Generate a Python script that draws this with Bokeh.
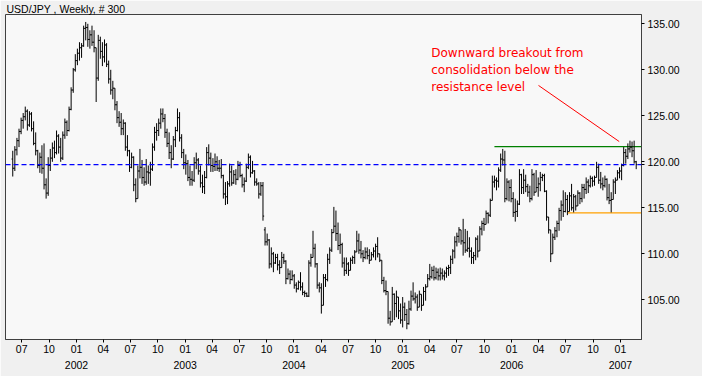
import pandas as pd
from bokeh.plotting import figure
from bokeh.models import (LinearAxis, FixedTicker, Range1d, Label, Span,
                          ColumnDataSource, PrintfTickFormatter)
from bokeh.embed import file_html
from bokeh.resources import INLINE

# ---------------- data ----------------
title_text = "USD/JPY , Weekly, # 300"
first_week = "2001-06-01"
n_weeks = 300

opens = [120.3,119.3,121.3,122.3,123.3,124.5,124.9,125.5,124.0,125.2,
123.6,122.0,121.2,119.6,120.5,119.3,117.5,116.6,119.6,120.4,
121.5,121.0,122.8,121.6,120.4,122.9,124.3,123.4,125.7,127.8,
130.0,131.0,131.8,132.4,132.6,134.5,134.6,133.3,133.8,133.0,
132.4,129.1,133.2,132.0,131.4,132.7,130.6,129.0,127.8,128.0,
126.2,124.8,124.3,123.6,124.2,121.6,121.2,119.4,120.5,117.5,
116.0,119.0,119.4,118.3,117.8,118.9,118.8,119.2,121.6,123.2,
123.4,124.2,125.2,124.7,123.2,122.0,121.0,120.3,122.4,123.4,
124.8,122.6,121.0,119.9,119.8,118.3,118.1,118.0,119.9,120.2,
119.0,117.7,117.3,118.3,121.0,120.4,119.6,119.5,120.0,119.3,
119.3,118.5,116.5,116.2,117.6,118.9,117.7,118.6,118.1,119.6,
118.5,117.5,117.9,119.4,120.5,118.8,119.0,117.8,117.6,116.5,
117.4,112.6,111.3,111.5,108.9,110.0,109.0,109.6,108.8,108.5,
109.6,109.2,107.3,107.8,107.2,107.6,106.6,106.2,106.9,106.4,
105.8,105.7,105.4,109.0,109.6,110.6,108.9,106.6,106.3,104.4,
107.4,107.2,109.4,110.4,112.3,113.0,112.2,110.9,111.0,109.0,
108.2,108.9,108.2,109.3,109.6,110.2,111.4,110.4,110.0,109.6,
110.2,109.8,109.3,109.9,110.3,110.8,110.0,109.3,107.1,106.0,
105.9,103.0,102.6,105.6,104.6,105.3,103.8,102.8,104.2,103.4,
102.4,104.0,105.4,105.1,105.3,104.2,105.6,104.4,105.9,106.4,
107.3,107.5,108.2,107.4,108.0,107.6,107.9,107.6,107.9,108.4,
108.5,109.4,110.3,111.3,111.9,112.6,111.4,111.2,110.4,110.6,
110.3,109.6,109.8,111.6,110.3,112.7,113.3,113.2,114.4,114.2,
115.8,117.8,118.0,117.9,119.1,120.3,120.2,116.0,117.8,117.2,
116.0,114.5,114.6,115.4,118.6,117.2,118.0,117.3,116.7,116.0,
118.6,116.7,117.2,117.6,118.3,118.5,116.8,114.0,112.6,110.0,
111.8,112.5,113.3,114.7,115.3,114.6,115.9,114.6,116.3,115.0,
116.2,115.2,116.6,116.0,117.2,117.0,117.8,117.4,118.2,117.9,
118.3,119.4,118.0,117.6,117.4,118.1,116.1,115.8,115.9,117.8,
118.0,118.8,119.0,119.6,121.0,120.6,121.4,121.6,121.2,120.0]

highs = [121.2,121.7,122.6,123.6,124.8,125.3,126.0,125.7,125.5,125.4,
124.4,123.2,121.3,121.0,121.8,122.0,118.2,120.5,121.4,122.1,
122.3,123.4,123.0,122.6,123.3,124.7,124.5,126.0,128.1,130.2,
131.7,132.3,133.0,132.9,134.8,135.2,135.0,134.3,134.8,134.3,
132.4,133.8,133.6,133.0,133.3,132.9,131.0,130.0,128.8,128.0,
126.6,125.5,125.3,124.6,124.3,122.9,121.3,121.0,120.6,118.2,
119.6,121.4,120.2,119.4,120.3,119.6,120.0,122.0,123.8,124.2,
124.7,125.8,125.8,125.2,123.6,123.2,121.8,122.8,123.8,125.8,
125.4,123.0,121.4,120.8,120.2,119.6,119.0,120.5,121.0,120.4,
119.6,118.6,119.0,121.6,121.9,121.0,120.4,120.9,120.6,120.2,
120.3,118.6,117.8,117.9,119.8,119.6,119.1,119.2,120.1,120.0,
118.7,118.3,119.8,120.9,120.7,120.1,119.1,118.2,117.8,117.8,
117.8,112.9,112.2,111.6,110.7,110.2,110.0,110.0,109.3,110.2,
110.0,109.3,108.4,108.2,108.2,107.8,106.9,107.1,108.0,106.9,
106.0,105.8,109.3,110.0,112.5,111.1,109.0,106.9,106.8,107.8,
107.8,110.0,110.7,112.7,115.1,114.7,113.4,112.2,111.2,109.6,
109.6,109.1,109.6,109.8,110.4,112.5,112.2,111.4,110.4,110.7,
110.7,110.5,110.2,110.7,111.1,111.8,110.0,109.3,107.5,107.1,
105.9,103.8,106.4,105.7,106.0,105.3,104.6,105.3,104.7,104.0,
104.9,106.0,106.9,105.8,105.6,106.0,105.6,106.4,106.7,107.8,
108.9,108.6,108.7,108.5,108.4,108.5,108.4,108.2,108.6,108.8,
109.8,110.5,111.9,112.3,112.9,112.6,113.8,112.7,112.5,111.8,
110.7,110.2,111.8,112.0,113.0,113.6,113.9,114.7,114.5,116.0,
118.5,118.5,118.3,119.4,120.9,121.4,121.2,118.2,118.0,118.1,
116.7,116.0,115.8,119.2,118.7,119.2,118.6,117.6,117.4,119.2,
118.8,119.1,118.3,118.9,118.7,118.7,116.9,114.0,112.6,112.2,
112.9,113.6,115.0,115.8,116.9,116.7,116.4,116.7,117.6,116.5,
116.4,116.9,116.7,117.6,117.6,118.3,118.1,118.5,118.4,118.5,
120.0,119.8,118.9,118.3,118.5,118.2,117.6,116.7,118.1,118.3,
119.1,119.4,119.8,121.6,121.4,122.0,122.3,122.2,122.3,120.1]

lows = [118.4,119.0,120.7,121.6,123.0,123.6,124.5,123.4,123.8,123.3,
121.8,120.7,119.3,118.8,118.7,117.0,116.0,116.3,119.0,120.0,
120.4,120.8,120.9,120.0,120.2,122.5,122.8,123.3,125.6,127.5,
129.8,130.5,131.0,131.3,132.5,133.2,132.5,132.3,132.6,131.9,
126.5,128.8,131.2,130.4,130.8,130.3,128.5,127.3,126.8,125.6,
124.2,123.8,122.9,122.9,121.2,120.6,118.9,119.3,116.8,115.6,
116.0,118.2,117.6,117.4,117.5,117.6,117.4,119.0,121.2,122.3,
122.8,123.6,124.3,122.6,121.6,120.3,119.3,120.2,121.6,123.3,
122.2,120.4,119.2,118.6,117.9,117.4,117.4,117.8,119.2,118.6,
117.2,116.6,116.5,118.2,119.6,118.9,118.9,119.0,119.0,118.9,
118.2,116.0,115.3,115.4,117.3,117.4,117.6,117.5,118.0,118.3,
117.2,116.7,117.8,119.2,118.3,118.7,117.4,117.4,116.0,116.3,
113.6,110.9,110.9,108.4,108.5,108.0,108.9,108.2,107.8,108.5,
108.9,106.7,107.2,106.7,107.1,106.2,105.8,106.1,106.0,105.5,
105.3,105.3,105.3,108.6,109.6,108.5,106.2,105.8,103.5,104.4,
106.4,107.0,108.9,110.2,112.3,111.4,110.4,110.0,108.5,107.6,
107.8,107.6,108.2,108.9,108.9,110.2,110.0,109.5,109.1,109.4,
109.4,108.9,109.3,109.6,109.3,109.6,109.1,106.7,105.8,105.5,
102.4,102.2,102.6,102.8,103.1,102.9,102.4,102.0,102.7,101.8,
102.3,103.8,104.9,104.6,103.8,104.2,103.8,104.4,104.9,106.4,
107.1,107.3,107.1,107.2,107.1,107.1,107.2,107.1,107.4,107.6,
107.8,108.9,109.5,110.8,111.2,111.0,109.8,110.1,110.2,109.6,
108.9,108.9,109.3,109.6,110.3,112.0,112.5,113.2,113.3,114.0,
115.8,117.2,116.9,117.2,118.9,119.6,115.6,115.8,115.7,115.6,
114.0,113.5,114.0,115.3,116.5,116.5,116.7,116.2,115.6,115.8,
116.3,116.7,116.2,116.8,117.9,116.7,113.6,112.2,109.1,110.0,
111.5,111.8,112.5,113.6,114.0,114.5,114.2,114.6,114.7,114.5,
114.7,115.2,115.4,115.6,116.0,116.5,116.6,117.2,117.3,117.4,
118.3,117.6,117.1,116.9,117.2,115.8,115.4,114.5,115.9,116.5,
118.0,118.2,118.0,119.5,119.8,120.3,121.0,120.5,119.8,119.2]

closes = [119.3,121.3,122.3,123.3,124.5,124.9,125.5,124.0,125.2,123.6,
122.0,121.2,119.6,120.5,119.3,117.5,116.6,119.6,120.4,121.5,
121.0,122.8,121.6,120.4,122.9,124.3,123.4,125.7,127.8,130.0,
131.0,131.8,132.4,132.6,134.5,134.6,133.3,133.8,133.0,132.4,
129.1,133.2,132.0,131.4,132.7,130.6,129.0,127.8,128.0,126.2,
124.8,124.3,123.6,124.2,121.6,121.2,119.4,120.5,117.5,116.0,
119.0,119.4,118.3,117.8,118.9,118.8,119.2,121.6,123.2,123.4,
124.2,125.2,124.7,123.2,122.0,121.0,120.3,122.4,123.4,124.8,
122.6,121.0,119.9,119.8,118.3,118.1,118.0,119.9,120.2,119.0,
117.7,117.3,118.3,121.0,120.4,119.6,119.5,120.0,119.3,119.3,
118.5,116.5,116.2,117.6,118.9,117.7,118.6,118.1,119.6,118.5,
117.5,117.9,119.4,120.5,118.8,119.0,117.8,117.6,116.5,117.4,
114.1,111.3,111.5,108.9,110.0,109.0,109.6,108.8,108.5,109.6,
109.2,107.3,107.8,107.2,107.6,106.6,106.2,106.9,106.4,105.8,
105.7,105.4,109.0,109.6,110.6,108.9,106.6,106.3,104.4,107.4,
107.2,109.4,110.4,112.3,113.0,112.2,110.9,111.0,109.0,108.2,
108.9,108.2,109.3,109.6,110.2,111.4,110.4,110.0,109.6,110.2,
109.8,109.3,109.9,110.3,110.8,110.0,109.3,107.1,106.0,105.9,
103.0,102.6,105.6,104.6,105.3,103.8,102.8,104.2,103.4,102.4,
104.0,105.4,105.1,105.3,104.2,105.6,104.4,105.9,106.4,107.3,
107.5,108.2,107.4,108.0,107.6,107.9,107.6,107.9,108.4,108.5,
109.4,110.3,111.3,111.9,112.6,111.4,111.2,110.4,110.6,110.3,
109.6,109.8,111.6,110.3,112.7,113.3,113.2,114.4,114.2,115.8,
117.8,118.0,117.9,119.1,120.3,120.2,116.0,117.8,117.2,116.0,
114.5,114.6,115.4,118.6,117.2,118.0,117.3,116.7,116.0,118.6,
116.7,117.2,117.6,118.3,118.5,116.8,114.0,112.6,110.0,111.8,
112.5,113.3,114.7,115.3,114.6,115.9,114.6,116.3,115.0,116.2,
115.2,116.6,116.0,117.2,117.0,117.8,117.4,118.2,117.9,118.3,
119.4,118.0,117.6,117.4,118.1,116.1,115.8,115.9,117.8,118.0,
118.8,119.0,119.6,121.0,120.6,121.4,121.6,121.2,120.0,119.69]

last_close = 119.69
last_close_text = "119.69"
y_ticks = [105, 110, 115, 120, 125, 130, 135]
resistance_level = 121.65
resistance_from = "2005-11-04"
support_level = 114.45
support_from = "2006-07-06"
note_text = "Downward breakout from\nconsolidation below the\nresistance level"
note_at = ("2005-04-06", 132.55)
pointer_from = ("2006-04-01", 128.3)
pointer_to = ("2006-12-28", 122.2)

# ---------------- helpers ----------------
DAY = 86400000
def ms(d):
    return int(pd.Timestamp(d).value // 10**6)

dates = pd.date_range(first_week, periods=n_weeks, freq="7D")
xs = [ms(d) for d in dates]
tick_w = 4 * DAY

src = ColumnDataSource(dict(
    x=xs,
    xl=[x - tick_w for x in xs],
    xr=[x + tick_w for x in xs],
    o=opens, h=highs, l=lows, c=closes))

# axis scale: 108.8 px per year, frame from px 5 to 641
ms_per_px = 365.25 * DAY / 108.8
x0 = ms("2002-01-01") - 71 * ms_per_px
x1 = ms("2002-01-01") + 565 * ms_per_px
# 9.2 px per yen; frame runs from about y=14 (below the title) to y=339
Y0 = 100.685
Y1 = Y0 + (339 - 14) / 9.2

p = figure(width=702, height=376, x_range=Range1d(x0, x1),
           y_range=Range1d(Y0, Y1),
           x_axis_type=None, y_axis_type=None,
           output_backend="svg", toolbar_location=None,
           min_border_left=5, min_border_right=61,
           min_border_top=0, min_border_bottom=37,
           background_fill_color="#F8F8F8", border_fill_color="#F0F0F0")
p.outline_line_color = "#404040"
p.outline_line_width = 1

p.title.text = title_text
p.title.text_font = "Liberation Sans"
p.title.text_font_size = "10.5px"
p.title.text_font_style = "normal"
p.title.text_color = "black"
p.title.align = "left"
p.title.offset = 1
p.title.standoff = 0

# reference lines
p.add_layout(Span(location=last_close, dimension="width", line_color="#0000FF",
                  line_width=1.2, line_dash="5 3"))
p.segment(x0=[ms(resistance_from)], y0=[resistance_level], x1=[x1], y1=[resistance_level],
          line_color="#008000", line_width=1.2)
p.segment(x0=[ms(support_from)], y0=[support_level], x1=[x1], y1=[support_level],
          line_color="#FFA000", line_width=1.2)

# OHLC bars
p.segment(x0="x", y0="l", x1="x", y1="h", source=src, line_color="black", line_width=1)
p.segment(x0="xl", y0="o", x1="x", y1="o", source=src, line_color="black", line_width=1)
p.segment(x0="x", y0="c", x1="xr", y1="c", source=src, line_color="black", line_width=1)

# annotation
p.segment(x0=[ms(pointer_from[0])], y0=[pointer_from[1]],
          x1=[ms(pointer_to[0])], y1=[pointer_to[1]], line_color="#FF0000", line_width=1)
p.add_layout(Label(x=ms(note_at[0]), y=note_at[1], text=note_text,
                   text_font="DejaVu Sans", text_font_size="12px", text_color="#FF0000",
                   text_baseline="top", text_align="left", text_line_height=1.22))

# axes
FONT = "Liberation Sans"
yax = LinearAxis(ticker=FixedTicker(ticks=y_ticks + [last_close]),
                 formatter=PrintfTickFormatter(format="%.2f"),
                 major_label_overrides={last_close: ""})
yax.major_tick_out = 3
yax.major_tick_in = 0
yax.minor_tick_line_color = None
yax.major_label_standoff = 3
yax.axis_line_color = "#404040"
yax.major_tick_line_color = "black"
yax.major_label_text_font = FONT
yax.major_label_text_font_size = "10.5px"
yax.major_label_text_color = "black"
p.add_layout(yax, "right")

p.add_layout(Label(x=x1, y=last_close, x_offset=6, text=last_close_text,
                   text_font=FONT, text_font_size="10.5px", text_color="#0000FF",
                   text_baseline="middle", text_align="left"))

q_dates = pd.date_range("2001-07-01", "2007-01-01", freq="QS")
q_ticks = [ms(d) for d in q_dates]
q_labels = {ms(d): "%02d" % d.month for d in q_dates}
xax = LinearAxis(ticker=FixedTicker(ticks=q_ticks), major_label_overrides=q_labels)
xax.major_tick_out = 3
xax.major_tick_in = 0
xax.minor_tick_line_color = None
xax.major_label_standoff = 2
xax.axis_line_color = "#404040"
xax.major_tick_line_color = "black"
xax.major_label_text_font = FONT
xax.major_label_text_font_size = "10.5px"
xax.major_label_text_color = "black"
p.add_layout(xax, "below")

y_dates = pd.date_range("2002-01-01", "2007-01-01", freq="YS")
yr_ticks = [ms(d) for d in y_dates]
yr_labels = {ms(d): str(d.year) for d in y_dates}
yrax = LinearAxis(ticker=FixedTicker(ticks=yr_ticks), major_label_overrides=yr_labels)
yrax.axis_line_color = None
yrax.major_tick_line_color = None
yrax.minor_tick_line_color = None
yrax.major_tick_out = 0
yrax.major_tick_in = 0
yrax.major_label_standoff = 5
yrax.major_label_text_font = FONT
yrax.major_label_text_font_size = "10.5px"
yrax.major_label_text_color = "black"
p.add_layout(yrax, "below")

open("out.html", "w").write(file_html(p, INLINE))
